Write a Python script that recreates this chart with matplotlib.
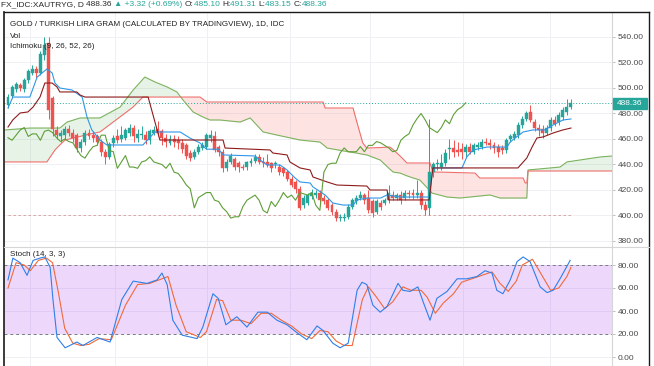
import numpy as np
import matplotlib
matplotlib.use("Agg")
import matplotlib.pyplot as plt
from matplotlib.lines import Line2D
from matplotlib.patches import Rectangle

plt.rcParams['font.family'] = ['Liberation Sans', 'DejaVu Sans']

# ---------------- data ----------------
opens = [487,494,499,502,499,506,512,515,512,526, 535,492,467,462,463,468,465,463,453,458,
         465,463,462,458,450,446,457,462,460,461, 465,469,461,463,463,459,465,468,466,461,
         457,460,459,457,455,449,446,450,453,454, 461,462,454,450,437,442,444,441,438,438,
         441,443,446,442,442,441,440,438,437,434, 429,426,421,408,410,415,416,418,414,412,
         408,403,398,398,399,407,411,414,416,414, 411,403,410,410,412,416,414,416,414,418,
         418,416,418,408,406,434,440,438,441,452, 453,451,452,450,454,450,454,454,458,457,
         455,454,453,451,460,461,463,471,476,481, 473,469,468,465,469,475,473,477,481,485.10]
highs = [495,502,505,504,508,515,518,517,529,540, 540,494,470,467,470,471,468,465,460,467,
         468,466,464,460,452,458,463,468,470,469, 472,471,468,470,466,468,470,474,468,464,
         463,463,462,460,457,451,452,456,458,465, 467,466,455,452,444,449,446,443,440,443,
         445,448,448,446,448,442,443,440,438,436, 431,428,423,416,418,421,420,420,416,414,
         410,405,401,402,409,414,416,419,418,420, 413,413,412,414,424,419,418,419,420,420,
         421,428,420,411,476,442,444,448,452,460, 459,458,457,456,457,457,458,460,461,460,
         458,456,455,461,464,466,473,478,482,487, 476,472,471,471,477,478,481,485,491,491.31]
lows = [484,492,497,498,497,504,510,508,510,522, 476,462,460,458,460,462,458,450,450,455,
        460,458,455,447,440,444,454,457,458,459, 462,458,458,460,456,456,463,462,455,454,
        455,454,452,449,444,443,444,448,451,452, 458,450,447,434,435,440,436,434,436,436,
        439,441,440,438,438,434,437,432,431,427, 422,418,404,406,408,413,414,410,409,404,
        400,396,396,396,397,405,409,412,409,402, 399,401,404,408,410,412,412,409,412,414,
        413,414,405,400,400,430,436,436,439,444, 446,447,444,446,448,448,451,452,455,452,
        449,446,448,449,458,459,461,469,474,473, 466,462,461,463,466,470,471,475,479,483.15]
closes = [493,501,503,500,506,513,515,512,527,534, 483,468,463,465,468,465,461,453,458,465,
          462,461,458,450,446,456,461,459,463,467, 469,462,464,464,459,466,467,465,461,458,
          460,458,457,452,447,445,450,454,455,463, 463,451,450,437,442,447,438,438,437,442,
          443,446,442,441,440,437,441,434,433,429, 424,421,406,414,416,418,418,412,411,406,
          403,398,399,399,407,412,414,416,412,404, 402,411,407,412,418,414,416,412,418,417,
          416,418,408,404,434,440,441,441,449,453, 450,450,450,454,450,455,455,458,457,455,
          453,450,451,459,462,464,471,476,480,475, 469,467,465,469,475,472,479,483,485,488.36]

tenkan_idx = [0,1.2,5.4,7.2,9.6,10.9,11.6,12.8,15.8,18.3, 19.5,20.7,22.7,24.4,33.3,36.3,42.5,44.9,47.4,49.0,
              52.0,53.1,61.0,62.2,64.0,67.2,68.9,70.9,72.1,74.6, 75.3,78.3,80.2,82.7,85.2,86.2,88.6,92.0,93.6,96.8,
              104.0,104.9,112.1,113.3,114.8,118.3,123.2,124.0,125.2,127.2, 129.6,132.5,134.6,137.0,139.0]
tenkan_val = [484.3,492.9,492.9,508.6,514.9,511.8,503.9,500.0,498.4,492.9, 477.3,467.1,459.2,455.3,455.3,465.5,465.5,460.8,456.9,452.0,
              452.0,447.5,446.7,443.5,439.6,439.6,435.7,429.4,426.3,425.5, 422.4,416.1,409.8,408.2,408.2,412.2,413.7,413.7,416.1,414.5,
              414.5,437.3,437.3,446.0,451.4,453.7,453.7,457.6,460.8,465.5, 467.1,467.1,471.0,474.9,475.7]

kijun_idx = [0,1.2,3.0,4.9,6.2,7.9,9.1,10.9,12.1,12.8, 17.0,17.8,19.0,34.6,37.5,53.1,53.6,64.7,65.4,68.9,
             69.6,72.1,74.6,75.3,78.8,81.2,88.6,89.4,93.6,94.0, 104.0,104.9,125.9,128.1,129.4,130.6,132.1,134.6,137.0,139.0]
kijun_val = [469.4,475.0,480.4,481.2,485.1,492.9,503.9,503.9,500.8,496.9, 496.9,494.5,492.9,492.9,459.2,459.2,452.9,451.4,449.0,447.5,
             442.0,437.3,435.7,430.2,426.3,423.9,423.1,420.0,420.0,412.2, 412.2,437.3,437.3,445.1,453.7,460.8,461.6,464.7,467.1,468.6]

cloud_idx = [-0.7,5.4,9.6,11.6,12.8,14.1,14.6,17.8,20.2,22.7, 27.7,30.9,33.3,33.8,36.3,39.3,41.7,43.2,45.7,47.4,
             48.1,49.1,49.9,52.3,57.3,59.8,63.0,66.4,72.1,77.0, 77.8,78.3,78.8,84.4,85.2,86.2,87.6,88.6,91.9,94.3,
             95.1,96.0,96.8,98.5,99.3,101.7,104.2,104.7,104.9,108.4, 111.6,115.3,116.5,119.0,121.5,127.2,127.7,128.1,128.4,136.3,
             138.0,146.2,149.4]
span_a = [467.1,468.6,468.6,468.6,468.6,472.0,473.3,476.5,476.5,476.5, 485.1,498.4,506.9,508.6,504.7,500.8,496.9,490.6,481.2,478.4,
          477.3,475.9,474.9,474.9,473.3,476.5,465.5,463.1,459.2,457.6, 455.6,454.3,452.9,449.8,449.4,448.9,448.0,447.5,443.5,436.3,
          434.1,433.6,433.3,431.1,430.2,427.8,419.4,417.6,417.4,414.5, 413.7,414.9,415.3,416.1,413.7,413.7,413.7,413.7,435.7,438.0,
          442.0,445.9,446.7]
span_b = [442.0,442.0,442.0,451.4,455.3,459.2,459.6,462.0,463.9,465.5, 477.4,485.1,492.9,492.9,492.9,492.9,492.9,492.9,492.9,492.9,
          491.3,489.0,489.0,489.0,489.0,489.0,489.0,489.0,489.0,489.0, 489.0,484.3,484.3,484.3,484.3,472.6,456.9,452.9,453.3,453.7,
          451.7,449.0,446.7,441.2,441.2,441.2,441.2,436.5,434.1,433.9, 433.6,433.3,429.4,429.4,429.4,429.4,425.5,425.5,434.9,434.9,
          434.9,434.9,434.9]
lag_shift = 26

k_idx = [0,1.2,3,4.7,6.2,7.9,9.1,10.4,11.1,12.1, 14.1,17,18.5,22,25.2,28.1,30.9,34.3,36.8,38,
         39.3,40.7,43,46.7,48.1,50.6,51.9,53.8,56.5,59, 61.7,64,66.4,68.9,71.4,73.8,76.3,77.8,80.2,82,
         84,86.2,87.4,88.6,90.1,91.9,93.6,96.3,97.5,99.3, 101.2,102.5,104.2,105.9,108.4,110.9,113.3,115.8,117.8,119.5,
         120.7,122.2,124,125.7,127.2,128.9,131.4,133.1,134.6,136.3, 138.8]
k_val = [67,86,82,71,84,86,87,78,50,17, 8,13,10,17,13,50,66,64,67,73,
         63,32,19,16,26,55,51,28,35,26, 39,39,32,28,21,15,27,23,12,8,
         12,58,65,63,45,39,44,64,58,57, 61,48,32,51,57,68,68,70,75,73,
         58,55,67,83,87,83,61,56,58,68, 84]
d_idx = [0,2,4,5.5,7.5,9.5,11,12.5,14,16, 18,20,22.5,25.5,29,32,35,38,39.5,41.5,
         44,47.5,49,51.5,53,55,57.5,60,62.5,65, 67.5,70,72.5,75,77,79,81,83,85,87.5,
         89,91,93,95,97.5,99.5,102,103.5,105.5,107.5, 110,112,114.5,117,119.5,121.5,123.5,125.5,127,129.5,
         132,134,136,138,139]
d_val = [60,82,80,75,84,86,82,55,25,12, 10,11,16,15,45,63,64,68,70,45,
         22,17,22,50,49,32,32,29,38,38, 32,27,20,16,23,22,14,10,10,50,
         61,52,42,48,61,58,58,52,38,47, 55,65,68,71,74,64,57,66,80,85,
         70,58,60,70,78]

price_ticks = [380, 400, 420, 440, 460, 480, 500, 520, 540]
stoch_ticks = [0, 20, 40, 60, 80]
month_idx = [5.4, 26.4, 49.1, 69.6, 89.4, 112.3, 133.8]
last_price = 488.36
low_line = 400.4

header = [('FX_IDC:XAUTRYG, D ', 'dark'), ('488.36 ', 'dark'), ('\u25b2 +3.32 (+0.69%) ', 'teal'),
          ('O:', 'dark'), ('485.10 ', 'teal'), ('H:', 'dark'), ('491.31 ', 'teal'),
          ('L:', 'dark'), ('483.15 ', 'teal'), ('C:', 'dark'), ('488.36', 'teal')]
legend_lines = ['GOLD / TURKISH LIRA GRAM (CALCULATED BY TRADINGVIEW), 1D, IDC', 'Vol',
                'Ichimoku (9, 26, 52, 26)']
stoch_title = 'Stoch (14, 3, 3)'

# ---------------- layout ----------------
W, H = 654, 366
fig = plt.figure(figsize=(W / 100, H / 100), dpi=100)
fig.patch.set_facecolor('white')

def fx(px): return px / W
def fy(py): return 1 - py / H

L, R = 4, 612
T1, B1 = 12, 246
T2, B2 = 247, 366
X0, PPB = 8.0, 4.05

ax = fig.add_axes([fx(L), fy(B1), (R - L) / W, (B1 - T1) / H])
ax2 = fig.add_axes([fx(L), fy(B2), (R - L) / W, (B2 - T2) / H])

def p_of(y): return 540 - (y - 37) / 1.275
def s_of(y): return (357 - y) / 1.15

for a in (ax, ax2):
    a.set_xlim(-(X0 - L) / PPB, (R - X0) / PPB)
    a.set_facecolor('white')
    for s in ('top', 'left', 'bottom'):
        a.spines[s].set_visible(False)
    a.spines['right'].set_color('#d6d6d6')
    a.spines['right'].set_linewidth(0.8)
    a.yaxis.tick_right()
    a.set_xticks(month_idx)
    a.tick_params(axis='x', length=0, labelbottom=False)
    a.tick_params(axis='y', length=2.5, width=0.6, color='#b5b5b5',
                  labelsize=6, labelcolor='#4a4a4a', pad=1.5)
    a.grid(True, color='#eef0f4', lw=0.7, zorder=0)
    a.set_axisbelow(True)

ax.set_ylim(p_of(B1), p_of(T1))
ax.set_yticks(price_ticks)
ax.set_yticklabels([f'{v:.2f}' for v in price_ticks])
ax2.set_ylim(s_of(B2), s_of(T2))
ax2.set_yticks(stoch_ticks)
ax2.set_yticklabels([f'{v:.2f}' for v in stoch_ticks])

idx = np.arange(len(closes))
o = np.array(opens); c = np.array(closes); h = np.array(highs); l = np.array(lows)

# cloud
ca = np.array(span_a); cb = np.array(span_b); ci = np.array(cloud_idx)
ax.fill_between(ci, ca, cb, where=ca >= cb, interpolate=True, color='#43a047', alpha=0.12, lw=0, zorder=1)
ax.fill_between(ci, ca, cb, where=ca < cb, interpolate=True, color='#f44336', alpha=0.14, lw=0, zorder=1)
ax.plot(ci, ca, color='#7bb35e', lw=0.8, zorder=2)
ax.plot(ci, cb, color='#ef6f6c', lw=0.8, zorder=2)

# price line and low line
ax.axhline(last_price, color='#26a69a', lw=0.7, ls=(0, (1, 2)), zorder=2)
ax.plot([idx[0], idx[-1]], [low_line, low_line], color='#d99a9a', lw=0.6, ls=(0, (3, 3)), zorder=2)

# candles
up = c >= o
col = np.where(up, '#26a69a', '#ef5350')
ax.vlines(idx, l, h, colors=col, lw=0.7, zorder=3)
ax.bar(idx, np.where(np.abs(c - o) < 0.6, 0.6, c - o), bottom=o, width=0.72,
       color=col, edgecolor=col, lw=0.3, zorder=4)

# ichimoku lines
ax.plot(tenkan_idx, tenkan_val, color='#2f96e8', lw=0.8, zorder=5)
ax.plot(kijun_idx, kijun_val, color='#8e1b1b', lw=0.8, zorder=5)
ax.plot(idx[:-lag_shift], c[lag_shift:], color='#5e9e37', lw=0.8, zorder=5)

# stochastic
ax2.axhspan(20, 80, color='#9c27f0', alpha=0.18, lw=0, zorder=1)
for lvl in (20, 80):
    ax2.axhline(lvl, color='#787b86', lw=0.7, ls=(0, (3, 3)), zorder=2)
ax2.plot(d_idx, d_val, color='#f06a3a', lw=0.8, zorder=3)
ax2.plot(k_idx, k_val, color='#2f7fe8', lw=0.8, zorder=4)

# ---------------- texts ----------------
renderer = fig.canvas.get_renderer()

def width_px(s, size):
    t = fig.text(0, 0, s + '|', fontsize=size)
    w = t.get_window_extent(renderer=renderer).width
    t.set_text('|')
    w -= t.get_window_extent(renderer=renderer).width
    t.remove()
    return w

colors = {'dark': '#2a2a2a', 'teal': '#26a69a'}
full = ''.join(s for s, _ in header)
hsize = 6.0 * 327 / width_px(full, 6.0)
prefix = ''
for s, cname in header:
    x = 1 + width_px(prefix, hsize) if prefix else 1
    fig.text(fx(x), fy(5), s, fontsize=hsize, color=colors[cname], ha='left', va='center')
    prefix += s

lsize = 6.0 * 273 / width_px(legend_lines[0], 6.0)
for i, s in enumerate(legend_lines):
    fig.text(fx(10), fy(25 + 11 * i), s, fontsize=lsize, color='#222222', ha='left', va='center')
fig.text(fx(10), fy(255), stoch_title, fontsize=lsize, color='#222222', ha='left', va='center')

# last price badge
fig.add_artist(Rectangle((fx(613), fy(109)), 34 / W, 11 / H, color=colors['teal'],
                         transform=fig.transFigure, zorder=10))
fig.text(fx(630), fy(103.5), f'{last_price:.2f}', color='white', fontsize=6,
         ha='center', va='center', zorder=11)

# frame
fig.add_artist(Line2D([fx(4), fx(4)], [fy(12), fy(366)], color='#1a1a1a', lw=1.2))
fig.add_artist(Line2D([fx(4), fx(649)], [fy(12), fy(12)], color='#1a1a1a', lw=1.0))
fig.add_artist(Line2D([fx(649), fx(649)], [fy(12), fy(366)], color='#1a1a1a', lw=1.0))
fig.add_artist(Line2D([fx(4), fx(649)], [fy(246.5), fy(246.5)], color='#d6d6d6', lw=0.8))

fig.savefig('out.png', dpi=100, facecolor='white')
